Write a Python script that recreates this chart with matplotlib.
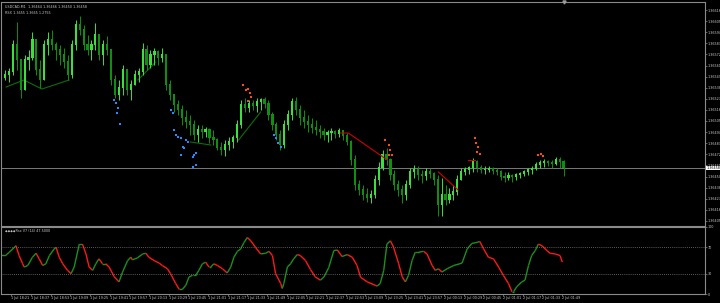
import matplotlib
matplotlib.use("Agg")
import matplotlib.pyplot as plt
from matplotlib.collections import LineCollection
import numpy as np
import pandas as pd

# prices are stored in points (1e-5) above BASE
BASE = 1.36000
SYMBOL = "USDCAD,M1"
OPEN0 = 548

HIGH = [556, 558, 586, 604, 566, 571, 576, 594, 586, 566,
        586, 594, 596, 584, 581, 578, 571, 586, 606, 610,
        601, 591, 586, 603, 591, 586, 590, 576, 551, 546,
        561, 556, 546, 556, 558, 583, 581, 576, 578, 576,
        578, 571, 546, 531, 526, 521, 516, 511, 506, 501,
        501, 499, 498, 496, 488, 484, 486, 489, 491, 506,
        526, 528, 526, 526, 528, 528, 529, 526, 514, 504,
        496, 506, 516, 528, 529, 521, 516, 511, 508, 506,
        501, 498, 496, 498, 496, 498, 496, 493, 486, 471,
        446, 441, 438, 436, 451, 464, 476, 478, 468, 456,
        446, 441, 446, 458, 461, 460, 456, 458, 458, 454,
        451, 448, 441, 438, 441, 451, 458, 459, 460, 468,
        466, 461, 460, 460, 459, 458, 456, 454, 454, 452,
        453, 454, 456, 458, 460, 464, 466, 467, 466, 466,
        469, 469, 466]
LOW = [546, 544, 551, 556, 528, 536, 556, 566, 551, 538,
       546, 571, 576, 566, 561, 558, 546, 548, 576, 591,
       576, 571, 566, 576, 566, 561, 571, 541, 528, 526,
       531, 531, 526, 541, 544, 551, 556, 558, 561, 561,
       564, 536, 526, 514, 511, 501, 498, 491, 486, 484,
       488, 489, 483, 481, 476, 471, 470, 476, 478, 484,
       498, 514, 514, 516, 514, 516, 518, 506, 496, 486,
       476, 478, 496, 506, 511, 501, 498, 494, 493, 491,
       488, 486, 484, 486, 488, 489, 486, 481, 461, 436,
       431, 426, 424, 423, 428, 441, 456, 461, 446, 436,
       430, 423, 426, 438, 448, 446, 443, 446, 448, 441,
       410, 410, 421, 423, 426, 431, 446, 451, 452, 454,
       454, 453, 452, 454, 452, 451, 446, 444, 446, 444,
       446, 448, 450, 451, 452, 456, 458, 459, 460, 458,
       461, 458, 450]
CLOSE = [551, 554, 581, 566, 536, 566, 568, 586, 556, 546,
         581, 586, 581, 576, 571, 564, 551, 581, 601, 596,
         581, 576, 581, 591, 571, 581, 576, 546, 531, 538,
         556, 536, 541, 551, 554, 576, 561, 571, 574, 568,
         571, 541, 531, 521, 516, 508, 504, 501, 491, 496,
         494, 496, 488, 486, 478, 476, 481, 484, 488, 501,
         521, 518, 522, 520, 524, 526, 522, 511, 501, 491,
         481, 501, 511, 524, 516, 508, 504, 501, 498, 496,
         494, 491, 493, 494, 492, 495, 490, 484, 466, 441,
         436, 431, 428, 431, 446, 458, 471, 466, 451, 441,
         436, 431, 441, 454, 456, 451, 450, 454, 452, 446,
         421, 431, 426, 431, 434, 446, 454, 456, 458, 464,
         458, 456, 456, 457, 455, 454, 449, 448, 450, 449,
         451, 452, 454, 456, 457, 461, 463, 464, 463, 462,
         466, 464, 458]

# zigzag / trend lines, (bar, points)
GREEN_LINES = [
    [(1.3, 539), (5.8, 546), (10.4, 537), (17.3, 546)],
    [(34.8, 546), (39.3, 564)],
    [(48.2, 484), (53.3, 481)],
    [(60.4, 486), (66.0, 514)],
]
RED_LINES = [
    [(86.3, 493), (88.3, 493), (98.2, 466)],
    [(111.2, 454), (116.2, 436)],
    [(118.8, 466), (120.6, 466)],
]

ORANGE_X = [61.4, 62.2, 62.7, 63.2, 63.5, 62.7, 97.7, 98.7, 99.0, 98.7, 99.5,
            120.6, 120.8, 121.3, 121.1, 121.8, 136.5, 137.3, 137.8]
ORANGE_P = [541, 536, 537, 533, 529, 525, 486, 481, 476, 471, 471,
            488, 483, 479, 474, 472, 471, 472, 470]
BLUE_X = [28.7, 29.2, 29.7, 29.4, 30.2, 43.1, 43.7, 43.9, 44.4, 44.9, 45.7, 47.0,
          47.5, 46.2, 46.4, 45.7, 48.7, 49.0, 49.5, 48.7, 49.5,
          69.3, 69.8, 70.3, 71.1]
BLUE_P = [526, 523, 518, 513, 502, 516, 513, 496, 491, 489, 488, 486,
          484, 479, 478, 471, 469, 471, 473, 459, 461,
          491, 488, 483, 479]

OSC_X = [0, 1.3, 2.1, 3.4, 3.8, 4.6, 5.5, 5.9, 6.8, 8.0, 8.9, 9.7, 10.6, 11.4, 12.3,
         13.5, 14.0, 14.8, 15.7, 16.9, 17.8, 18.6, 19.9, 20.7, 21.6, 22.4, 23.3, 24.1,
         24.9, 25.8, 26.6, 27.5, 28.8, 30.0, 30.9, 32.2, 33.0, 33.4, 34.7, 36.0, 36.8,
         37.6, 38.9, 40.2, 41.0, 42.3, 43.1, 44.4, 45.3, 46.1, 47.0, 47.8, 48.7, 49.5,
         50.3, 51.2, 52.0, 52.9, 53.3, 54.1, 55.0, 56.3, 57.5, 58.4, 59.2, 60.1, 60.9,
         61.8, 62.6, 63.5, 64.7, 66.0, 67.3, 68.1, 69.0, 69.8, 71.1, 71.5, 71.9, 72.8,
         73.6, 74.4, 75.3, 76.1, 77.4, 78.7, 79.9, 81.2, 82.1, 83.3, 84.6, 85.5, 86.7,
         88.0, 89.3, 90.5, 91.4, 93.1, 95.6, 96.4, 97.3, 98.1, 99.0, 99.8, 101.1, 102.0,
         102.8, 103.6, 104.5, 105.3, 106.2, 107.4, 108.3, 109.6, 110.4, 111.2, 112.1,
         113.4, 115.1, 117.2, 118.5, 119.7, 121.0, 121.7, 122.7, 123.9, 125.2, 126.5,
         127.7, 129.0, 129.9, 130.3, 131.1, 132.4, 133.2, 134.1, 134.9, 135.8, 136.6,
         137.5, 138.8, 139.6, 140.9, 142.1, 142.7]
OSC_V = [58.3, 58.3, 62.3, 69.6, 72.1, 57.4, 45.1, 40.2, 42.6, 54.9, 60.8, 52.5, 42.6,
         45.1, 57.4, 67.2, 69.6, 54.9, 45.1, 35.3, 30.4, 40.2, 74.5, 74.5, 59.8, 40.2,
         35.3, 45.1, 52.5, 45.1, 45.1, 40.2, 25.5, 18.1, 32.8, 50, 54.9, 51, 53.9, 59.8,
         60.8, 54.9, 50, 46.1, 42.6, 37.7, 30.4, 15.7, 6.9, 6.9, 13.2, 25.5, 27.9, 27.9,
         35.3, 45.1, 47.5, 40.2, 40.2, 45.1, 42.6, 37.7, 31.4, 40.2, 54.9, 63.7, 67.2,
         77, 84.3, 79.4, 69.6, 59.8, 60.8, 63.7, 57.4, 30.4, 15.7, 8.3, 15.7, 40.2, 45.1,
         52.5, 58.8, 57.4, 50, 36.3, 25.5, 20.6, 25.5, 39.2, 64.7, 65.7, 55.9, 58.8,
         54.9, 42.6, 25, 18.1, 11.8, 15.7, 35.3, 74.5, 79.4, 69.6, 45.1, 25.5, 18.1,
         27.9, 50, 62.3, 62.3, 63.7, 59.8, 42.6, 35.3, 37.7, 32.8, 37.7, 42.6, 46.1,
         67.2, 75.5, 77, 78.4, 67.2, 54.9, 52.5, 40.2, 27.9, 15.7, 3.4, 3.4, 10.8, 18.1,
         20.6, 42.6, 57.4, 64.7, 74.5, 72.1, 64.7, 60.8, 59.8, 57.4, 47.5]
OSC_LEVELS = [70, 30]
OSC_TICKS = [100, 70, 30, 0]

TIME_TICKS = pd.date_range("2020-07-01 18:21", periods=29, freq="16min")
TIME_LABELS = [f"{t.day} {t:%b %H:%M}" for t in TIME_TICKS]

BG = "black"
FRAME = "#8a8a8a"
TXT = "#c8c8c8"
UP = "#3be03b"
DOWN = "#0f8f0f"
FS = 2.4


def px(vals):
    return BASE + np.asarray(vals, dtype=float) * 1e-5


fig = plt.figure(figsize=(7.2, 3.03), dpi=100, facecolor=BG)
ax = fig.add_axes([0.0014, 1 - 226 / 303, 0.979 - 0.0014, 224 / 303], facecolor=BG)
ax2 = fig.add_axes([0.0014, 9 / 303, 0.979 - 0.0014, 67 / 303], facecolor=BG)

n = len(CLOSE)
x = np.arange(1, n + 1)
opens = np.array([OPEN0] + CLOSE[:-1])
closes = np.array(CLOSE)
up = closes >= opens
colors = np.where(up, UP, DOWN)

ax.vlines(x, px(LOW), px(HIGH), colors=colors, linewidth=0.7, zorder=3)
ax.bar(x, (np.abs(closes - opens) + 0.6) * 1e-5, bottom=px(np.minimum(opens, closes)),
       width=0.55, color=colors, linewidth=0, zorder=3)

for seg in GREEN_LINES:
    sx, sp = zip(*seg)
    ax.plot(sx, px(sp), color="#0b6e0b", lw=0.8, zorder=2)
for seg in RED_LINES:
    sx, sp = zip(*seg)
    ax.plot(sx, px(sp), color="#d00000", lw=0.8, zorder=4)

ax.scatter(ORANGE_X, px(ORANGE_P), s=2.5, marker="s", color="#ff4a12", linewidths=0, zorder=5)
ax.scatter(BLUE_X, px(BLUE_P), s=2.5, marker="s", color="#1e8fff", linewidths=0, zorder=5)

last = px(CLOSE[-1])
ax.axhline(last, color="#7a7a7a", lw=0.7, zorder=1)

xmax = 705 / 3.94
ax.set_xlim(0, xmax)
ax.set_ylim(px(400), px(624))
ax.plot([n], [px(624)], marker="v", ms=2.2, color="#9a9a9a", clip_on=False, zorder=6)

ticks = 616 - 11.1 * np.arange(20)
ax.yaxis.tick_right()
ax.set_yticks(px(ticks))
ax.set_yticklabels([f"{v:.5f}" for v in px(ticks)])
ax.tick_params(axis="y", colors=FRAME, labelcolor=TXT, labelsize=FS, length=1.2, width=0.5, pad=0.6)
ax.set_xticks([])
for s in ax.spines.values():
    s.set_color(FRAME)
    s.set_linewidth(0.8)

ax.text(1.0025, last, f"{last:.5f}", transform=ax.get_yaxis_transform(), fontsize=FS,
        color="black", va="center", ha="left",
        bbox=dict(boxstyle="square,pad=0.12", facecolor="white", edgecolor="none"))

ax.text(0.006, 0.988, f"{SYMBOL}  {px(CLOSE[-2]):.5f} {px(HIGH[-1]):.5f} {px(LOW[-1]):.5f} {last:.5f}",
        transform=ax.transAxes, fontsize=FS, color=TXT, va="top", ha="left")
ax.text(0.006, 0.958, "RSX 1.3655 1.3665 1.2755", transform=ax.transAxes,
        fontsize=FS, color=TXT, va="top", ha="left")

# oscillator
pts = np.column_stack([OSC_X, OSC_V])
segs = np.stack([pts[:-1], pts[1:]], axis=1)
seg_cols = ["#1c8f1c" if b >= a else "#ff1818" for a, b in zip(OSC_V[:-1], OSC_V[1:])]
ax2.add_collection(LineCollection(segs, colors=seg_cols, linewidths=1.0))
for lv in OSC_LEVELS:
    ax2.axhline(lv, color="#7a7a7a", lw=0.6, ls=(0, (1, 1.5)))
ax2.set_xlim(0, xmax)
ax2.set_ylim(0, 100)
ax2.yaxis.tick_right()
ax2.set_yticks(OSC_TICKS)
ax2.set_yticklabels([str(t) for t in OSC_TICKS])
ax2.tick_params(axis="y", colors=FRAME, labelcolor=TXT, labelsize=FS, length=1.2, width=0.5, pad=0.6)
tick_pos = 2.6 + 5 * np.arange(len(TIME_LABELS))
ax2.set_xticks(tick_pos)
ax2.set_xticklabels(TIME_LABELS)
ax2.tick_params(axis="x", colors=FRAME, labelcolor=TXT, labelsize=FS, length=1.2, width=0.5, pad=0.5)
for lbl in ax2.get_xticklabels():
    lbl.set_ha("left")
for s in ax2.spines.values():
    s.set_color(FRAME)
    s.set_linewidth(0.8)
ax2.text(0.006, 0.97, f"\u25c6\u25c6\u25c6\u25c6Rsx V7 (14) {OSC_V[-1]:.4f}", transform=ax2.transAxes,
         fontsize=FS, color=TXT, va="top", ha="left")

fig.savefig("out.png", dpi=100, facecolor=BG)
